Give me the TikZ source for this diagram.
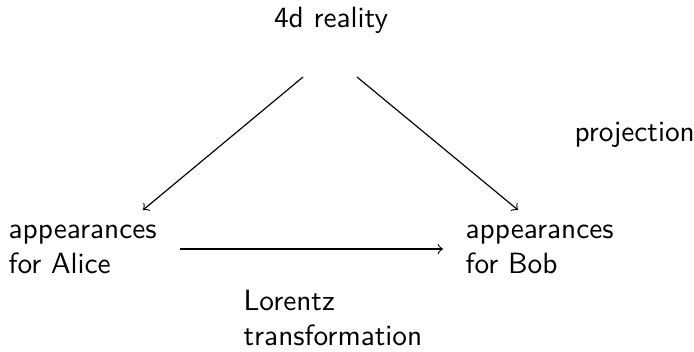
\documentclass[tikz,border=0pt]{standalone}
\usepackage{fontspec}
\begin{document}
\begin{tikzpicture}[x=0.3413pt,y=-0.3413pt,
  lbl/.style={inner sep=0pt,align=left,font=\sffamily},
  arr/.style={->}]
\useasboundingbox (0,0) rectangle (694,351);
\node[lbl] (top) at (331,20) {4d reality};
\node[lbl,anchor=west] (alice) at (8,249) {appearances\\for Alice};
\node[lbl,anchor=west] (bob) at (465,249) {appearances\\for Bob};
\node[lbl,anchor=west] (proj) at (574,135) {projection};
\node[lbl,anchor=west] (lor) at (243,318) {Lorentz\\transformation};
\coordinate (a1) at (303,77);
\coordinate (a2) at (143,210);
\coordinate (b1) at (357,77);
\coordinate (b2) at (518,210);
\coordinate (c1) at (180,249);
\coordinate (c2) at (443,249);
\draw[arr] (a1) -- (a2);
\draw[arr] (b1) -- (b2);
\draw[arr] (c1) -- (c2);
\end{tikzpicture}
\end{document}
